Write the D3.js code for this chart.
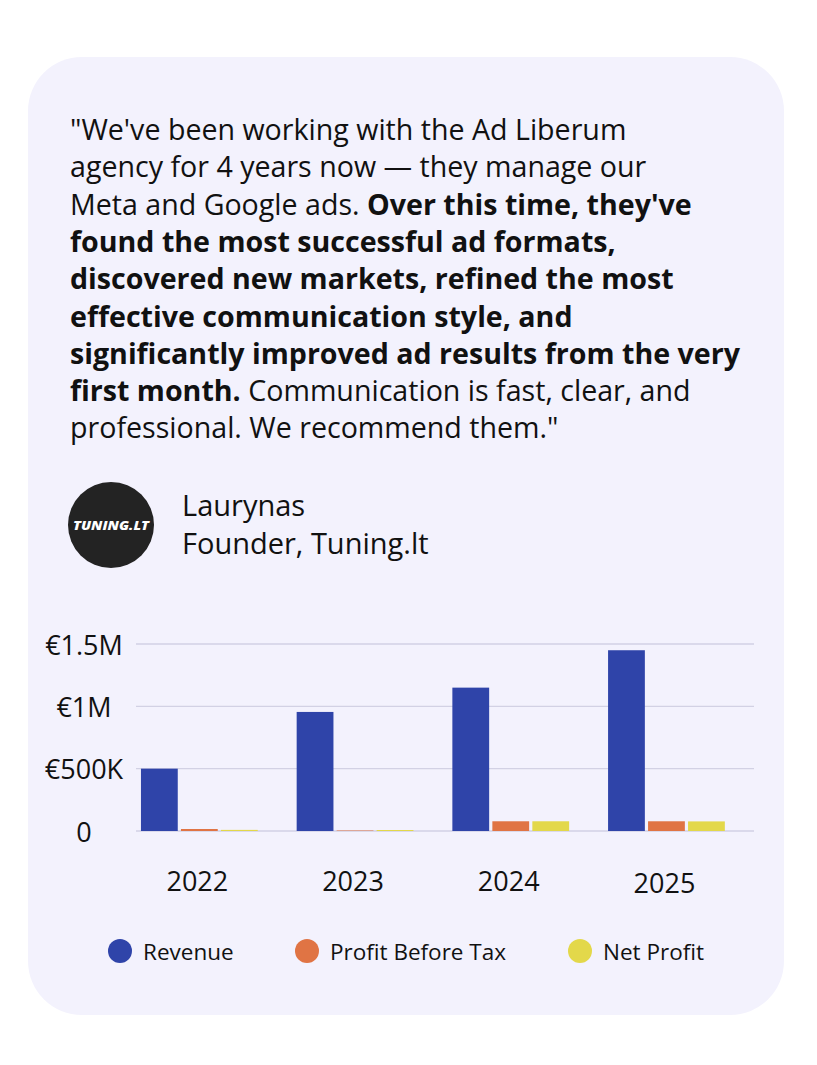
<!DOCTYPE html>
<html>
<head>
<meta charset="utf-8">
<script src="https://cdn.jsdelivr.net/npm/d3@7"></script>
<style>
  html, body { margin: 0; padding: 0; background: #ffffff; }
  svg { display: block; font-family: "Open Sans", "Noto Sans", sans-serif; }
</style>
</head>
<body>
<svg id="card" width="817" height="1065"></svg>
<script>
// ---- data ----
const years = ["2022", "2023", "2024", "2025"];
const revenue = [500000, 955000, 1150000, 1450000];
const profitBeforeTax = [16000, 4000, 78000, 78000];
const netProfit = [9000, 8000, 78000, 77000];
const seriesNames = ["Revenue", "Profit Before Tax", "Net Profit"];
const seriesColors = ["#2f44a9", "#e07444", "#e3d84a"];
const yTicks = [0, 500000, 1000000, 1500000];
const yTickLabels = ["0", "€500K", "€1M", "€1.5M"];

// quote lines: [text, bold?] segments
const quoteLines = [
    [["\"We've been working with the Ad Liberum", false]],
    [["agency for 4 years now — they manage our", false]],
    [["Meta and Google ads. ", false], ["Over this time, they've", true]],
    [["found the most successful ad formats,", true]],
    [["discovered new markets, refined the most", true]],
    [["effective communication style, and", true]],
    [["significantly improved ad results from the very", true]],
    [["first month.", true], [" Communication is fast, clear, and", false]],
    [["professional. We recommend them.\"", false]]
];
const authorName = "Laurynas";
const authorRole = "Founder, Tuning.lt";
const logoText = "TUNING.LT";

const svg = d3.select("#card");

// card background
svg.append("rect")
    .attr("x", 28).attr("y", 57)
    .attr("width", 756).attr("height", 958)
    .attr("rx", 54)
    .attr("fill", "#f3f2fd");

// ---- quote ----
const quote = svg.append("g").attr("class", "quote");
quoteLines.forEach((segs, i) => {
    const t = quote.append("text")
        .attr("x", 70)
        .attr("y", 140 + i * 37.3)
        .style("font-size", "28.6px")
        .attr("fill", "#111111");
    segs.forEach(([s, b]) => {
        t.append("tspan")
            .style("font-weight", b ? 700 : 400)
            .text(s);
    });
});

// ---- author ----
const author = svg.append("g").attr("class", "author");
author.append("circle")
    .attr("cx", 111).attr("cy", 525).attr("r", 43)
    .attr("fill", "#232323");
author.append("text")
    .attr("x", 111).attr("y", 525)
    .attr("text-anchor", "middle")
    .attr("dominant-baseline", "central")
    .attr("textLength", 76)
    .attr("lengthAdjust", "spacingAndGlyphs")
    .style("font-size", "13px")
    .style("font-weight", 800)
    .style("font-style", "italic")
    .attr("fill", "#ffffff")
    .text(logoText);
author.append("text")
    .attr("x", 182).attr("y", 516)
    .style("font-size", "29px")
    .attr("fill", "#111111")
    .text(authorName);
author.append("text")
    .attr("x", 182).attr("y", 554)
    .style("font-size", "29px")
    .attr("fill", "#111111")
    .text(authorRole);

// ---- chart ----
const yScale = d3.scaleLinear()
    .domain([0, 1500000])
    .range([831, 644]);

const xScale = d3.scaleBand()
    .domain(years)
    .range([121.5, 744.3])
    .paddingInner(0.25)
    .paddingOuter(0.125);

const xInner = d3.scaleBand()
    .domain(seriesNames)
    .range([0, xScale.bandwidth()])
    .paddingInner(0.08);

const color = d3.scaleOrdinal().domain(seriesNames).range(seriesColors);

const table = years.map((y, i) => ({
    year: y,
    values: [revenue[i], profitBeforeTax[i], netProfit[i]]
        .map((v, j) => ({ key: seriesNames[j], value: v }))
}));

// gridlines
svg.append("g")
    .selectAll("line")
    .data(yTicks)
    .join("line")
    .attr("x1", 136).attr("x2", 754)
    .attr("y1", d => yScale(d)).attr("y2", d => yScale(d))
    .attr("stroke", "#d2d1e4")
    .attr("stroke-width", 1.3);

// y labels
svg.append("g")
    .selectAll("text")
    .data(yTicks)
    .join("text")
    .attr("x", 84)
    .attr("y", d => yScale(d))
    .attr("text-anchor", "middle")
    .attr("dominant-baseline", "central")
    .style("font-size", "27px")
    .attr("fill", "#111111")
    .text((d, i) => yTickLabels[i]);

// bars
const groups = svg.append("g")
    .selectAll("g")
    .data(table)
    .join("g")
    .attr("transform", d => `translate(${xScale(d.year)},0)`);

groups.selectAll("rect")
    .data(d => d.values)
    .join("rect")
    .attr("x", d => xInner(d.key))
    .attr("width", xInner.bandwidth())
    .attr("y", d => yScale(d.value))
    .attr("height", d => yScale(0) - yScale(d.value))
    .attr("fill", d => color(d.key));

// year labels
svg.append("g")
    .selectAll("text")
    .data(years)
    .join("text")
    .attr("x", d => xScale(d) + xScale.bandwidth() / 2 - 2)
    .attr("y", (d, i) => i === 3 ? 893 : 891)
    .attr("text-anchor", "middle")
    .style("font-size", "27px")
    .attr("fill", "#111111")
    .text(d => d);

// legend
const legendX = [120, 307, 580];
const legend = svg.append("g")
    .selectAll("g")
    .data(seriesNames)
    .join("g")
    .attr("transform", (d, i) => `translate(${legendX[i]},951)`);

legend.append("circle")
    .attr("r", 12)
    .attr("fill", d => color(d));

legend.append("text")
    .attr("x", 23)
    .attr("dominant-baseline", "central")
    .style("font-size", "22.5px")
    .attr("fill", "#111111")
    .text(d => d);
</script>
</body>
</html>
